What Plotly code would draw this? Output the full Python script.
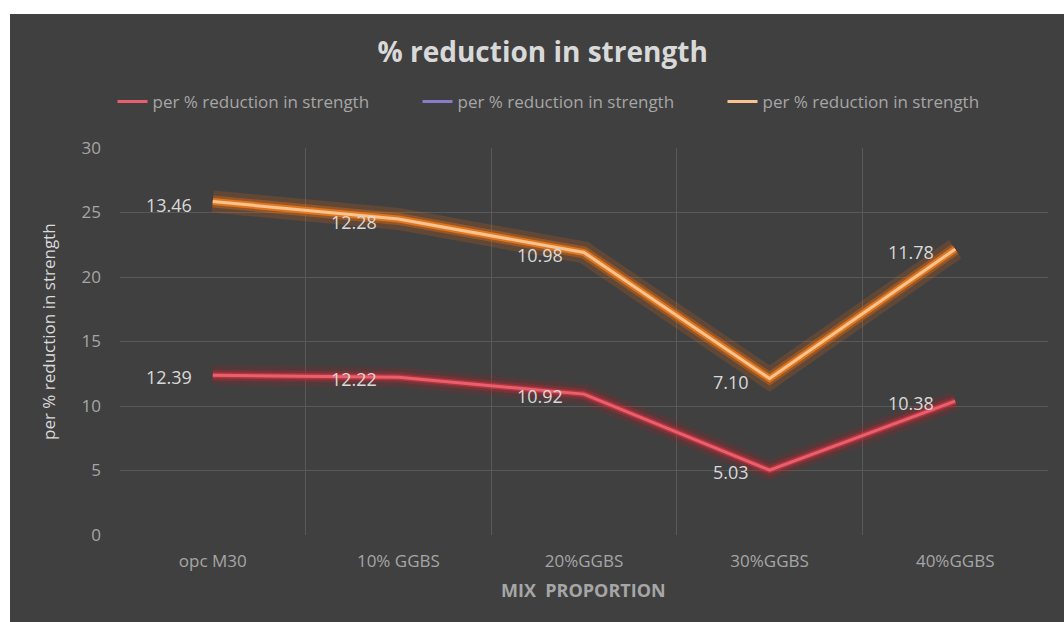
import plotly.graph_objects as go

categories = ["opc M30", "10% GGBS", "20%GGBS", "30%GGBS", "40%GGBS"]
series_names = ["per % reduction in strength", "per % reduction in strength", "per % reduction in strength"]
red_vals = [12.39, 12.22, 10.92, 5.03, 10.38]
purple_vals = [13.46, 12.28, 10.98, 7.10, 11.78]
orange_vals = [13.46, 12.28, 10.98, 7.10, 11.78]
y_ticks = [0, 5, 10, 15, 20, 25, 30]

x = list(range(len(categories)))
stack_top = [a + b for a, b in zip(red_vals, orange_vals)]

BG = "#404040"
GRID = "#595959"
TXT = "#d9d9d9"
TICK = "#a6a6a6"
FONT = "Open Sans"

fig = go.Figure()

# glow layers
fig.add_trace(go.Scatter(x=x, y=red_vals, mode="lines", line=dict(color="rgba(180,30,40,0.18)", width=20),
                         hoverinfo="skip", showlegend=False))
fig.add_trace(go.Scatter(x=x, y=red_vals, mode="lines", line=dict(color="rgba(200,40,50,0.30)", width=11),
                         hoverinfo="skip", showlegend=False))
fig.add_trace(go.Scatter(x=x, y=red_vals, mode="lines", line=dict(color="rgba(225,55,65,0.55)", width=6),
                         hoverinfo="skip", showlegend=False))
fig.add_trace(go.Scatter(x=x, y=red_vals, mode="lines", name=series_names[0],
                         line=dict(color="#e8606e", width=3)))

fig.add_trace(go.Scatter(x=x, y=stack_top, mode="lines", name=series_names[1],
                         line=dict(color="#8a7cc8", width=3)))

fig.add_trace(go.Scatter(x=x, y=stack_top, mode="lines", line=dict(color="rgba(225,100,15,0.20)", width=22),
                         hoverinfo="skip", showlegend=False))
fig.add_trace(go.Scatter(x=x, y=stack_top, mode="lines", line=dict(color="rgba(235,110,15,0.38)", width=12),
                         hoverinfo="skip", showlegend=False))
fig.add_trace(go.Scatter(x=x, y=stack_top, mode="lines", line=dict(color="rgba(245,130,30,0.75)", width=7),
                         hoverinfo="skip", showlegend=False))
fig.add_trace(go.Scatter(x=x, y=stack_top, mode="lines", name=series_names[2],
                         line=dict(color="#f9c390", width=3)))

annotations = []
for xi, yv, lab in zip(x, red_vals, red_vals):
    annotations.append(dict(x=xi, y=yv, text=f"{lab:.2f}", showarrow=False, xanchor="right", yanchor="middle",
                            xshift=-19, yshift=-2, font=dict(family=FONT, size=18, color=TXT)))
for xi, yv, lab in zip(x, stack_top, orange_vals):
    annotations.append(dict(x=xi, y=yv, text=f"{lab:.2f}", showarrow=False, xanchor="right", yanchor="middle",
                            xshift=-19, yshift=-3, font=dict(family=FONT, size=18, color=TXT)))

# axis titles
annotations.append(dict(xref="paper", yref="paper", x=(583 - 120) / 928, y=(535 - 590) / 387,
                        text="<b>MIX  PROPORTION</b>",
                        showarrow=False, xanchor="center", yanchor="middle",
                        font=dict(family=FONT, size=18, color=TICK)))
annotations.append(dict(xref="paper", yref="paper", x=(48 - 120) / 928, y=(535 - 332) / 387,
                        text="per % reduction in strength",
                        showarrow=False, textangle=-90, xanchor="center", yanchor="middle",
                        font=dict(family=FONT, size=17, color=TXT)))

shapes = [
    dict(type="rect", xref="paper", yref="paper", x0=-0.14, x1=1.03, y0=(535 - 14) / 387, y1=1.4,
         fillcolor="white", line=dict(width=0), layer="above"),
    dict(type="rect", xref="paper", yref="paper", x0=-0.14, x1=(10 - 120) / 928, y0=-0.3, y1=1.4,
         fillcolor="white", line=dict(width=0), layer="above"),
]

fig.update_layout(
    width=1064, height=622,
    margin=dict(l=120, r=16, t=148, b=87),
    paper_bgcolor=BG, plot_bgcolor=BG,
    title=dict(text="<b>% reduction in strength</b>", x=0.51, xanchor="center", y=1 - 52 / 622, yanchor="middle",
               font=dict(family=FONT, size=28, color=TXT)),
    legend=dict(orientation="h", x=(570 - 120) / 928, xanchor="center", y=(535 - 102) / 387, yanchor="middle",
                font=dict(family=FONT, size=17, color=TICK), bgcolor="rgba(0,0,0,0)",
                entrywidth=260, itemwidth=30),
    annotations=annotations,
    shapes=shapes,
    font=dict(family=FONT),
)

fig.update_xaxes(
    range=[-0.5, len(categories) - 0.5],
    tickvals=x, ticktext=categories, showgrid=False, zeroline=False, showline=False,
    tickfont=dict(family=FONT, size=17, color=TICK), ticks="", ticklabelstandoff=14,
    minor=dict(tickvals=[i - 0.5 for i in range(len(categories) + 1)], showgrid=True, gridcolor=GRID, gridwidth=1,
               ticks=""),
)
fig.update_yaxes(
    range=[0, 30], tickvals=y_ticks, showgrid=True, gridcolor=GRID, gridwidth=1, zeroline=False, showline=False,
    tickfont=dict(family=FONT, size=17, color=TICK), ticks="", ticklabelstandoff=18,
)

fig.write_html("out.html")
